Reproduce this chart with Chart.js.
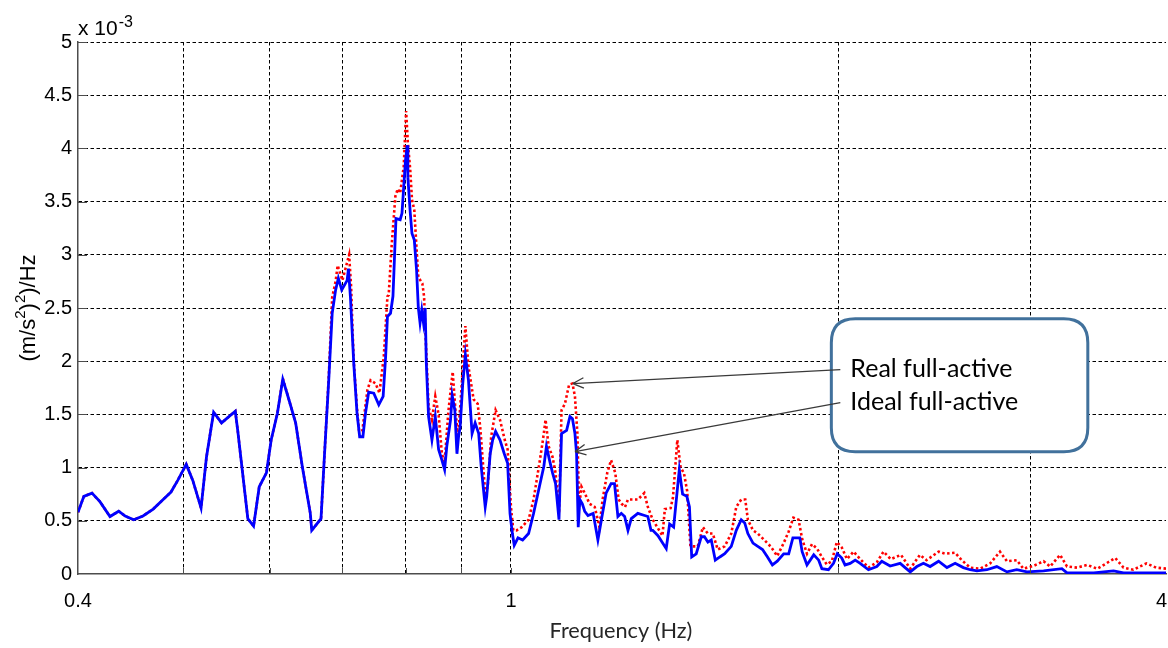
<!DOCTYPE html>
<html>
<head>
<meta charset="utf-8">
<script src="https://cdn.jsdelivr.net/npm/chart.js@4.4.1/dist/chart.umd.min.js"></script>
<style>
  html, body { margin: 0; padding: 0; background: #fff; overflow: hidden; }
  canvas { display: block; }
</style>
</head>
<body>
<canvas id="psdChart" width="1168" height="648"></canvas>
<script>
// ideal full-active (blue solid), PSD in units of 1e-3 (m/s^2)^2/Hz
const idealFreq = [
  0.400,0.405,0.412,0.419,0.428,0.436,0.442,0.450,0.459,0.469,
  0.479,0.487,0.494,0.503,0.510,0.519,0.525,0.533,0.542,0.558,
  0.561,0.573,0.580,0.587,0.596,0.602,0.610,0.617,0.625,0.634,
  0.643,0.654,0.656,0.669,0.674,0.680,0.685,0.690,0.694,0.699,
  0.707,0.709,0.712,0.717,0.722,0.726,0.731,0.735,0.740,0.748,
  0.756,0.763,0.767,0.770,0.775,0.779,0.780,0.784,0.791,0.794,
  0.797,0.800,0.803,0.804,0.808,0.811,0.815,0.819,0.822,0.825,
  0.828,0.831,0.834,0.836,0.840,0.846,0.852,0.858,0.864,0.869,
  0.873,0.880,0.883,0.888,0.892,0.895,0.898,0.903,0.908,0.914,
  0.921,0.927,0.934,0.939,0.947,0.950,0.957,0.962,0.968,0.977,
  0.986,0.993,0.998,1.003,1.007,1.015,1.025,1.038,1.049,1.062,
  1.072,1.078,1.085,1.092,1.099,1.107,1.113,1.125,1.133,1.139,
  1.145,1.149,1.153,1.157,1.163,1.169,1.177,1.190,1.202,1.211,
  1.223,1.236,1.245,1.254,1.263,1.272,1.281,1.290,1.308,1.327,
  1.336,1.345,1.350,1.365,1.379,1.389,1.399,1.411,1.421,1.428,
  1.438,1.451,1.459,1.466,1.480,1.496,1.506,1.517,1.528,1.541,
  1.556,1.572,1.594,1.611,1.628,1.640,1.651,1.669,1.686,1.703,
  1.721,1.739,1.757,1.781,1.800,1.816,1.843,1.852,1.871,1.898,
  1.918,1.931,1.958,1.979,1.995,2.014,2.028,2.050,2.072,2.094,
  2.131,2.169,2.192,2.231,2.279,2.303,2.328,2.361,2.394,2.428,
  2.472,2.516,2.560,2.605,2.643,2.681,2.738,2.796,2.857,2.917,
  2.980,3.087,3.209,3.244,3.433,3.580,3.656,3.980,4.000
];
const idealPsd = [
  0.58,0.73,0.76,0.68,0.54,0.59,0.545,0.51,0.545,0.61,
  0.70,0.77,0.88,1.03,0.88,0.62,1.10,1.52,1.42,1.53,
  1.34,0.52,0.45,0.82,0.95,1.26,1.51,1.83,1.64,1.42,
  1.01,0.57,0.41,0.52,1.13,1.82,2.45,2.67,2.78,2.67,
  2.76,2.87,2.60,1.98,1.51,1.29,1.29,1.51,1.71,1.70,
  1.59,1.67,2.04,2.42,2.45,2.61,2.75,3.34,3.33,3.39,
  3.64,3.89,4.03,3.73,3.40,3.20,3.14,2.85,2.50,2.36,
  2.48,2.36,2.50,1.98,1.48,1.26,1.48,1.17,1.07,0.98,
  1.20,1.45,1.68,1.54,1.13,1.29,1.38,1.79,2.06,1.82,
  1.32,1.42,1.32,1.01,0.63,0.73,1.13,1.26,1.34,1.26,
  1.13,1.04,0.57,0.38,0.27,0.34,0.32,0.38,0.57,0.82,
  1.01,1.20,1.07,0.95,0.85,0.51,1.32,1.35,1.48,1.46,
  1.32,1.13,0.44,0.70,0.66,0.59,0.55,0.57,0.32,0.51,
  0.76,0.85,0.85,0.54,0.57,0.54,0.41,0.52,0.57,0.55,
  0.54,0.41,0.41,0.36,0.29,0.24,0.47,0.44,0.76,0.98,
  0.75,0.73,0.63,0.16,0.19,0.35,0.35,0.30,0.32,0.13,
  0.16,0.19,0.26,0.41,0.51,0.48,0.38,0.29,0.26,0.23,
  0.16,0.085,0.12,0.19,0.19,0.34,0.34,0.21,0.085,0.18,
  0.13,0.05,0.04,0.10,0.19,0.15,0.085,0.10,0.13,0.10,
  0.04,0.07,0.12,0.075,0.10,0.06,0.02,0.07,0.10,0.07,
  0.12,0.06,0.10,0.06,0.04,0.03,0.04,0.07,0.02,0.04,
  0.02,0.03,0.05,0.01,0.01,0.03,0.01,0.01,0.01
];

// real full-active (red dotted)
const realFreq = [
  0.400,0.405,0.412,0.419,0.428,0.436,0.442,0.450,0.459,0.469,
  0.479,0.487,0.494,0.503,0.510,0.519,0.525,0.533,0.542,0.558,
  0.561,0.573,0.580,0.587,0.596,0.602,0.610,0.617,0.625,0.634,
  0.643,0.654,0.656,0.669,0.674,0.680,0.685,0.690,0.693,0.700,
  0.710,0.713,0.715,0.717,0.722,0.725,0.730,0.738,0.743,0.751,
  0.757,0.764,0.770,0.772,0.777,0.783,0.787,0.791,0.797,0.801,
  0.804,0.808,0.811,0.815,0.819,0.822,0.829,0.832,0.835,0.840,
  0.846,0.852,0.858,0.864,0.869,0.876,0.884,0.889,0.894,0.900,
  0.908,0.914,0.924,0.932,0.937,0.947,0.952,0.959,0.968,0.977,
  0.987,0.993,1.000,1.005,1.012,1.023,1.038,1.049,1.062,1.070,
  1.076,1.083,1.092,1.099,1.107,1.113,1.121,1.131,1.139,1.145,
  1.151,1.155,1.161,1.169,1.181,1.194,1.206,1.214,1.226,1.236,
  1.247,1.256,1.264,1.273,1.281,1.295,1.308,1.326,1.336,1.350,
  1.363,1.378,1.385,1.402,1.409,1.422,1.432,1.442,1.452,1.462,
  1.485,1.501,1.517,1.533,1.549,1.572,1.594,1.611,1.628,1.642,
  1.651,1.669,1.686,1.709,1.732,1.757,1.781,1.800,1.818,1.838,
  1.852,1.871,1.891,1.911,1.931,1.951,1.972,1.993,2.014,2.036,
  2.065,2.094,2.131,2.169,2.200,2.234,2.283,2.328,2.376,2.410,
  2.472,2.506,2.560,2.596,2.643,2.700,2.757,2.815,2.857,2.917,
  2.958,3.020,3.087,3.130,3.197,3.244,3.314,3.386,3.459,3.593,
  3.656,3.733,3.838,3.917,4.000
];
const realPsd = [
  0.58,0.73,0.76,0.68,0.54,0.59,0.545,0.51,0.545,0.61,
  0.70,0.77,0.88,1.03,0.88,0.62,1.10,1.52,1.42,1.53,
  1.34,0.52,0.45,0.82,0.95,1.26,1.51,1.84,1.64,1.42,
  1.01,0.57,0.41,0.52,1.13,1.85,2.60,2.75,2.90,2.76,
  3.00,2.70,2.32,2.00,1.55,1.35,1.34,1.73,1.82,1.79,
  1.70,2.04,2.61,2.62,3.10,3.55,3.62,3.58,3.83,4.35,
  4.05,3.80,3.52,3.42,3.05,2.79,2.73,2.61,2.20,1.57,
  1.45,1.67,1.50,1.13,1.05,1.53,1.90,1.55,1.28,1.70,
  2.33,1.95,1.64,1.60,1.38,0.76,0.82,1.29,1.54,1.45,
  1.26,1.17,0.63,0.41,0.41,0.44,0.51,0.70,1.04,1.26,
  1.45,1.20,1.10,0.95,0.57,1.54,1.60,1.78,1.79,1.67,
  1.32,0.63,0.82,0.76,0.66,0.63,0.44,0.70,0.95,1.07,
  0.95,0.70,0.66,0.63,0.70,0.70,0.70,0.76,0.63,0.51,
  0.44,0.36,0.61,0.62,0.72,1.26,1.00,0.95,0.78,0.26,
  0.26,0.44,0.38,0.38,0.23,0.26,0.38,0.63,0.70,0.70,
  0.51,0.41,0.38,0.32,0.26,0.17,0.29,0.40,0.53,0.51,
  0.33,0.19,0.28,0.24,0.16,0.09,0.12,0.30,0.25,0.14,
  0.21,0.14,0.06,0.11,0.21,0.14,0.18,0.05,0.18,0.13,
  0.21,0.19,0.20,0.13,0.06,0.05,0.10,0.21,0.12,0.13,
  0.05,0.075,0.12,0.07,0.18,0.07,0.06,0.085,0.05,0.15,
  0.06,0.04,0.10,0.06,0.05
];

const xTickValues = [0.4, 0.5, 0.6, 0.7, 0.8, 0.9, 1, 2, 3, 4];
const xTickLabels = [0.4, 1, 4];
const noteLabels = ['Real full-active', 'Ideal full-active'];
// arrow tips sit on the curves (freq, psd)
const arrowTips = [[1.14, 1.79], [1.145, 1.15]];

const AXIS_FONT = 'Arial, "Liberation Sans", sans-serif';
const NOTE_FONT = 'Lato, "Open Sans", sans-serif';
const X_LABEL_PAD = 15;

const toPoints = (xs, ys) => xs.map((x, i) => ({ x, y: ys[i] }));

const fitSize = (ctx, text, family, width) => {
  ctx.font = `100px ${family}`;
  return (100 * width) / ctx.measureText(text).width;
};

/* -----------------------------
   Decorations (titles, ticks, note)
------------------------------ */

const decorations = {
  id: 'decorations',
  afterDatasetsDraw(chart) {
    const { ctx, chartArea: area, scales: { x, y } } = chart;
    ctx.save();

    // inside tick marks, MATLAB style
    ctx.strokeStyle = '#4d4d4d';
    ctx.lineWidth = 1;
    ctx.beginPath();
    y.ticks.forEach((t) => {
      if (t.value === 0) return;
      const py = Math.round(y.getPixelForValue(t.value)) + 0.5;
      ctx.moveTo(area.left, py);
      ctx.lineTo(area.left + 9, py);
    });
    xTickValues.slice(1, -1).forEach((v) => {
      const px = Math.round(x.getPixelForValue(v)) + 0.5;
      ctx.moveTo(px, area.bottom);
      ctx.lineTo(px, area.bottom - 6);
    });
    ctx.stroke();

    // last x label sits inside the canvas edge
    const last = xTickLabels[xTickLabels.length - 1];
    ctx.fillStyle = '#000';
    ctx.font = `20px ${AXIS_FONT}`;
    ctx.textAlign = 'right';
    ctx.textBaseline = 'middle';
    ctx.fillText(String(last), chart.width - 1, area.bottom + X_LABEL_PAD + 12);

    // exponent label
    ctx.textBaseline = 'alphabetic';
    ctx.textAlign = 'left';
    ctx.font = `21px ${AXIS_FONT}`;
    ctx.fillText('x 10', area.left, 35);
    const baseW = ctx.measureText('x 10').width;
    ctx.font = `16px ${AXIS_FONT}`;
    ctx.fillText('-3', area.left + baseW + 1, 27);

    // y title with superscripts
    const parts = [['(m/s', false], ['2', true], [')', false], ['2', true], [')/Hz', false]];
    const partFont = (sup) => (sup ? `15px ${AXIS_FONT}` : `22px ${AXIS_FONT}`);
    let total = 0;
    parts.forEach(([t, sup]) => { ctx.font = partFont(sup); total += ctx.measureText(t).width; });
    ctx.save();
    ctx.translate(35, (area.top + area.bottom) / 2);
    ctx.rotate(-Math.PI / 2);
    let cx = -total / 2;
    parts.forEach(([t, sup]) => {
      ctx.font = partFont(sup);
      ctx.fillText(t, cx, sup ? -10 : 0);
      cx += ctx.measureText(t).width;
    });
    ctx.restore();

    // x title
    const xTitle = 'Frequency (Hz)';
    ctx.font = `${fitSize(ctx, xTitle, NOTE_FONT, 143).toFixed(1)}px ${NOTE_FONT}`;
    ctx.fillStyle = '#262626';
    ctx.textAlign = 'center';
    ctx.fillText(xTitle, 621, 638);

    // note box
    const bx1 = x.getPixelForValue(1.97);
    const bx2 = x.getPixelForValue(3.39);
    const by1 = y.getPixelForValue(2.40);
    const by2 = y.getPixelForValue(1.15);
    const r = 24;
    ctx.beginPath();
    ctx.moveTo(bx1 + r, by1);
    ctx.lineTo(bx2 - r, by1);
    ctx.quadraticCurveTo(bx2, by1, bx2, by1 + r);
    ctx.lineTo(bx2, by2 - r);
    ctx.quadraticCurveTo(bx2, by2, bx2 - r, by2);
    ctx.lineTo(bx1 + r, by2);
    ctx.quadraticCurveTo(bx1, by2, bx1, by2 - r);
    ctx.lineTo(bx1, by1 + r);
    ctx.quadraticCurveTo(bx1, by1, bx1 + r, by1);
    ctx.closePath();
    ctx.fillStyle = '#fff';
    ctx.fill();
    ctx.strokeStyle = '#41719c';
    ctx.lineWidth = 3;
    ctx.stroke();

    ctx.fillStyle = '#000';
    ctx.textAlign = 'left';
    ctx.font = `${fitSize(ctx, noteLabels[0], NOTE_FONT, 162).toFixed(1)}px ${NOTE_FONT}`;
    ctx.fillText(noteLabels[0], bx1 + 19, by1 + 58);
    ctx.fillText(noteLabels[1], bx1 + 19, by1 + 91);

    // arrows from the note to the curves
    ctx.strokeStyle = '#3a3a3a';
    ctx.lineWidth = 1.3;
    arrowTips.forEach(([f, v], i) => {
      const sx = bx1 + 9;
      const sy = by1 + 51 + i * 33;
      const tx = x.getPixelForValue(f);
      const ty = y.getPixelForValue(v);
      const ang = Math.atan2(sy - ty, sx - tx);
      ctx.beginPath();
      ctx.moveTo(sx, sy);
      ctx.lineTo(tx, ty);
      [-0.45, 0.45].forEach((d) => {
        ctx.moveTo(tx, ty);
        ctx.lineTo(tx + 12 * Math.cos(ang + d), ty + 12 * Math.sin(ang + d));
      });
      ctx.stroke();
    });

    ctx.restore();
  },
};

/* -----------------------------
   Chart
------------------------------ */

const gridColor = (hidden) => (ctx) =>
  ctx.tick && hidden.includes(ctx.tick.value) ? 'rgba(0,0,0,0)' : '#000';

new Chart(document.getElementById('psdChart'), {
  type: 'line',
  data: {
    datasets: [
      {
        label: 'Ideal full-active',
        data: toPoints(idealFreq, idealPsd),
        borderColor: '#0000ff',
        borderWidth: 2.8,
        pointRadius: 0,
        tension: 0,
        order: 0,
      },
      {
        label: 'Real full-active',
        data: toPoints(realFreq, realPsd),
        borderColor: '#ff0000',
        borderWidth: 2.6,
        borderDash: [2.5, 2.5],
        pointRadius: 0,
        tension: 0,
        order: 1,
      },
    ],
  },
  options: {
    responsive: false,
    animation: false,
    devicePixelRatio: 1,
    layout: { padding: { top: 42, right: 2, left: 0, bottom: 0 } },
    plugins: { legend: { display: false }, tooltip: { enabled: false } },
    scales: {
      x: {
        type: 'logarithmic',
        min: 0.4,
        max: 4,
        afterBuildTicks: (s) => { s.ticks = xTickValues.map((v) => ({ value: v })); },
        afterFit: (s) => { s.height = 74; s.paddingRight = 0; s.paddingLeft = 0; },
        ticks: {
          autoSkip: false,
          maxRotation: 0,
          padding: X_LABEL_PAD,
          color: '#000',
          font: { family: AXIS_FONT, size: 20 },
          // the last label is drawn by the decorations plugin
          callback: (v) => (xTickLabels.slice(0, -1).includes(v) ? String(v) : ''),
        },
        grid: { drawTicks: false, lineWidth: 1, color: gridColor([0.4, 4]) },
        border: { display: true, color: '#4d4d4d', width: 1.5, dash: [3.5, 2.5] },
      },
      y: {
        min: 0,
        max: 5,
        afterFit: (s) => { s.width = 78; s.paddingTop = 0; s.paddingBottom = 0; },
        ticks: {
          stepSize: 0.5,
          padding: 6,
          color: '#000',
          font: { family: AXIS_FONT, size: 20 },
          callback: (v) => String(Math.round(v * 10) / 10),
        },
        grid: { drawTicks: false, lineWidth: 1, color: gridColor([0]) },
        border: { display: true, color: '#4d4d4d', width: 1.5, dash: [3.5, 2.5] },
      },
    },
  },
  plugins: [decorations],
});
</script>
</body>
</html>
